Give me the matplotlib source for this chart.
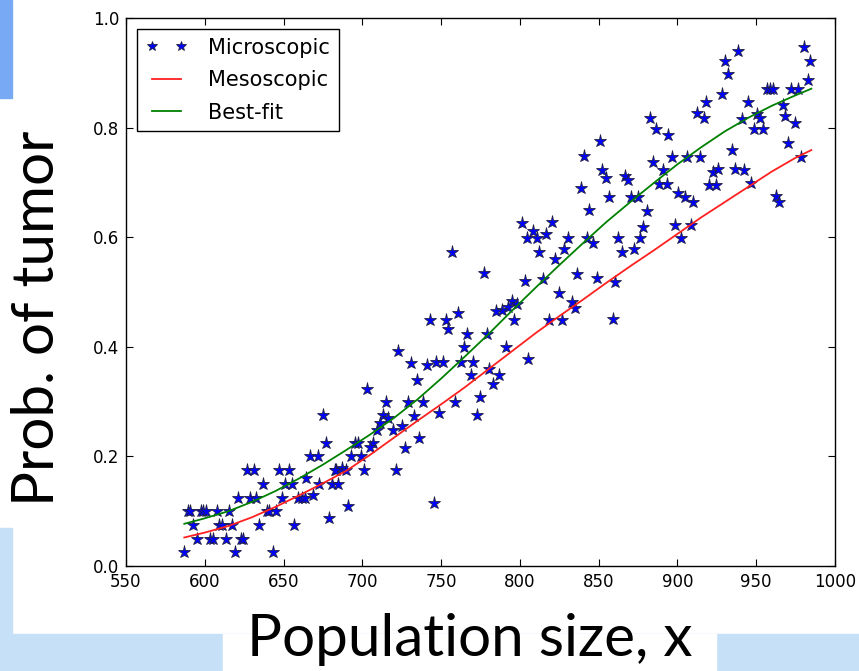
import numpy as np
import matplotlib.pyplot as plt
from matplotlib.patches import Rectangle

# microscopic simulation results (population size, probability of tumor)
micro_x = [587.0, 589.5, 590.6, 597.4, 599.0, 601.0, 607.5, 615.6, 592.7, 609.2,
           611.0, 617.0, 634.6, 656.6, 595.3, 603.0, 605.0, 613.5, 622.8, 624.5,
           619.2, 643.1, 621.3, 628.7, 632.5, 648.8, 659.4, 661.5, 663.6, 637.1,
           650.9, 655.6, 672.7, 680.5, 684.8, 627.0, 631.2, 647.2, 653.3, 683.3,
           639.3, 641.0, 645.2, 664.5, 666.8, 671.6, 668.9, 674.8, 677.2, 679.0,
           722.4, 730.6, 734.5, 703.2, 714.8, 729.2, 713.3, 716.5, 711.2, 709.1,
           719.2, 725.0, 733.0, 695.3, 697.0, 706.6, 704.9, 692.8, 699.0, 727.1,
           736.1, 682.6, 686.9, 689.4, 701.0, 721.2, 691.1, 745.5,
           756.7, 777.2, 803.2, 801.1, 804.3, 794.8, 792.6, 798.4, 788.4, 784.8,
           760.9, 742.9, 753.1, 754.6, 766.6, 779.3, 764.5, 790.9, 740.8, 746.8,
           751.0, 762.4, 770.4, 805.3, 768.9, 780.4, 786.9, 782.7, 738.7, 758.8,
           774.7, 748.8, 772.6, 796.5,
           850.8, 840.7, 851.9, 854.6, 866.7, 868.8, 838.5, 856.8, 870.3, 875.2,
           844.0, 820.5, 808.5, 816.6, 811.0, 830.7, 842.8, 846.6, 862.0, 876.2,
           812.3, 828.2, 822.3, 864.6, 872.6, 814.4, 836.4, 848.7, 860.4, 825.0,
           832.9, 835.0, 818.6, 826.9, 858.9,
           930.2, 931.8, 928.1, 918.1, 912.2, 916.8, 882.6, 886.4, 894.2, 896.3,
           906.3, 914.3, 884.7, 890.6, 888.5, 893.1, 900.5, 904.8, 910.1, 880.4,
           878.3, 898.4, 908.6, 902.3, 922.3, 925.9, 920.2, 924.5,
           938.6, 980.5, 984.1, 982.6, 956.6, 958.7, 960.8, 972.1, 976.3, 944.5,
           966.9, 950.2, 952.4, 940.7, 968.3, 948.6, 954.5, 974.6, 934.4, 970.3,
           936.5, 942.2, 946.4, 978.4, 962.5, 964.6]
micro_y = [0.025, 0.100, 0.100, 0.100, 0.100, 0.100, 0.100, 0.100, 0.075, 0.075,
           0.075, 0.075, 0.075, 0.075, 0.050, 0.050, 0.050, 0.050, 0.050, 0.050,
           0.025, 0.025, 0.125, 0.125, 0.125, 0.125, 0.125, 0.125, 0.125, 0.150,
           0.150, 0.150, 0.150, 0.150, 0.150, 0.175, 0.175, 0.175, 0.175, 0.175,
           0.100, 0.100, 0.100, 0.161, 0.200, 0.200, 0.130, 0.275, 0.225, 0.087,
           0.393, 0.370, 0.339, 0.323, 0.299, 0.299, 0.275, 0.270, 0.261, 0.249,
           0.249, 0.255, 0.273, 0.225, 0.225, 0.225, 0.217, 0.200, 0.200, 0.216,
           0.234, 0.175, 0.178, 0.175, 0.175, 0.175, 0.110, 0.115,
           0.573, 0.535, 0.520, 0.626, 0.599, 0.484, 0.473, 0.478, 0.467, 0.465,
           0.461, 0.449, 0.449, 0.432, 0.423, 0.423, 0.399, 0.399, 0.367, 0.373,
           0.373, 0.373, 0.373, 0.378, 0.349, 0.359, 0.349, 0.332, 0.299, 0.299,
           0.308, 0.279, 0.275, 0.449,
           0.775, 0.749, 0.723, 0.708, 0.711, 0.705, 0.690, 0.673, 0.673, 0.673,
           0.649, 0.628, 0.612, 0.606, 0.598, 0.598, 0.599, 0.590, 0.598, 0.598,
           0.573, 0.578, 0.561, 0.573, 0.578, 0.523, 0.533, 0.526, 0.519, 0.498,
           0.482, 0.471, 0.449, 0.449, 0.450,
           0.922, 0.898, 0.861, 0.847, 0.827, 0.818, 0.818, 0.797, 0.787, 0.747,
           0.747, 0.747, 0.737, 0.723, 0.697, 0.697, 0.681, 0.673, 0.664, 0.647,
           0.619, 0.623, 0.623, 0.598, 0.719, 0.725, 0.696, 0.696,
           0.940, 0.947, 0.922, 0.887, 0.871, 0.871, 0.871, 0.871, 0.871, 0.847,
           0.841, 0.824, 0.818, 0.816, 0.822, 0.797, 0.797, 0.808, 0.759, 0.771,
           0.725, 0.723, 0.698, 0.747, 0.675, 0.664]

# mesoscopic model curve
meso_x = [587, 600, 615, 630, 645, 660, 675, 690, 705, 720, 735, 750, 765, 780,
          795, 810, 825, 840, 855, 870, 885, 900, 915, 930, 945, 960, 975, 985]
meso_y = [0.052, 0.061, 0.073, 0.089, 0.108, 0.129, 0.151, 0.174, 0.203, 0.234,
          0.265, 0.295, 0.326, 0.359, 0.392, 0.425, 0.456, 0.486, 0.517, 0.547,
          0.576, 0.606, 0.636, 0.664, 0.692, 0.720, 0.745, 0.759]

# best-fit curve
fit_x = [587, 600, 615, 630, 645, 660, 675, 690, 705, 720, 735, 750, 765, 780,
         795, 810, 825, 840, 855, 870, 885, 900, 915, 930, 945, 960, 975, 985]
fit_y = [0.077, 0.087, 0.100, 0.117, 0.137, 0.160, 0.185, 0.212, 0.240, 0.270,
         0.304, 0.342, 0.382, 0.423, 0.466, 0.508, 0.549, 0.589, 0.628, 0.664,
         0.699, 0.733, 0.764, 0.793, 0.818, 0.840, 0.859, 0.871]

fig = plt.figure(figsize=(8.59, 6.71), dpi=100)

# slide decorations
fig.patches.append(Rectangle((0, 1 - 98/671), 12/859, 98/671, transform=fig.transFigure,
                             color='#78a9f5', zorder=0))
fig.patches.append(Rectangle((0, 0), 12/859, 143/671, transform=fig.transFigure,
                             color='#c6e0f8', zorder=0))
fig.patches.append(Rectangle((0, 0), 1, 37/671, transform=fig.transFigure,
                             color='#c6e0f8', zorder=0))
fig.patches.append(Rectangle((223/859, 0), 493/859, 37/671, transform=fig.transFigure,
                             color='white', zorder=1))

ax = fig.add_axes([126/859, 1 - 566/671, 709/859, 548/671])

ax.plot(micro_x, micro_y, 'b*', markersize=9.5, markeredgecolor='#222244',
        markeredgewidth=0.6, label='Microscopic')
ax.plot(meso_x, meso_y, color='#ff2020', lw=1.3, label='Mesoscopic')
ax.plot(fit_x, fit_y, color='#008000', lw=1.3, label='Best-fit')

ax.set_xlim(550, 1000)
ax.set_ylim(0, 1)
ax.set_xticks(np.arange(550, 1001, 50))
ax.set_yticks(np.arange(0, 1.01, 0.2))
ax.set_yticklabels(['0.0', '0.2', '0.4', '0.6', '0.8', '1.0'])
ax.tick_params(direction='in', top=True, right=True, length=5, width=0.8,
               labelsize=12, pad=5)
for s in ax.spines.values():
    s.set_linewidth(1.0)

leg = ax.legend(loc='upper left', numpoints=2, fontsize=15, fancybox=False,
                framealpha=1, edgecolor='black', borderaxespad=0.55,
                handlelength=2.0, handletextpad=1.0, labelspacing=0.6,
                markerscale=0.8)
leg.get_frame().set_linewidth(1.0)

fig.text(470/859, 1 - 640/671, 'Population size, x', fontsize=42, family='Lato',
         ha='center', va='center', zorder=3)
fig.text(38/859, 1 - 318/671, 'Prob. of tumor', fontsize=42, family='Lato',
         rotation=90, ha='center', va='center')

fig.savefig('out.png', dpi=100)
